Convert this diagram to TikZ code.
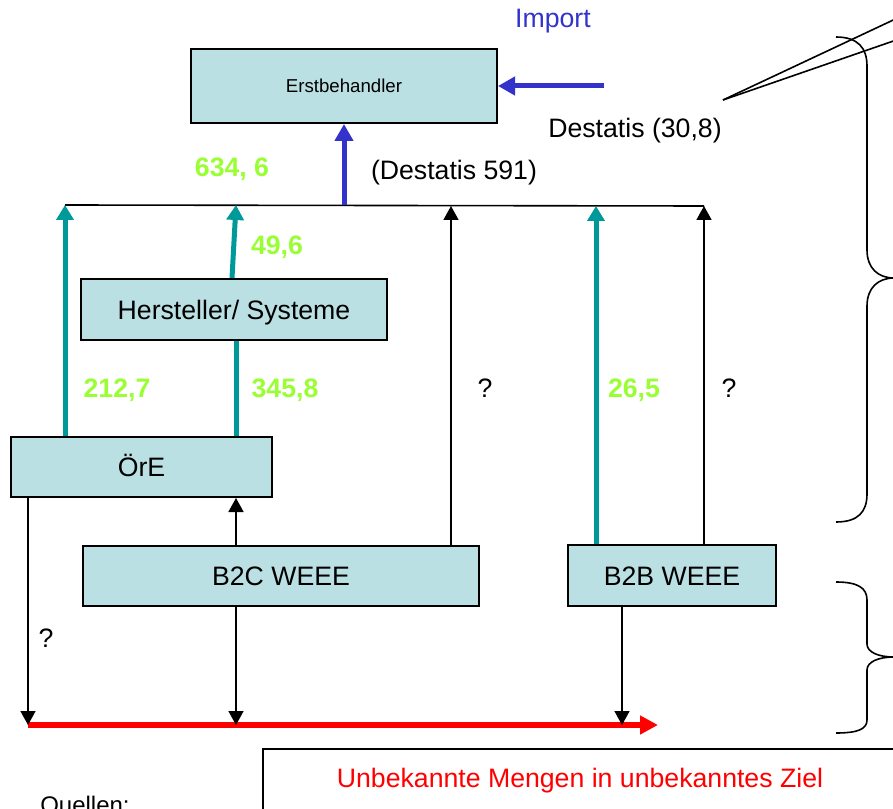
\documentclass[tikz,border=0pt]{standalone}
\usepackage{fontspec}
\setmainfont{Liberation Sans}
\usetikzlibrary{arrows.meta}
\definecolor{boxfill}{HTML}{BBE0E3}
\definecolor{tealc}{HTML}{009999}
\definecolor{limec}{HTML}{99FF33}
\definecolor{bluec}{HTML}{3333CC}
\begin{document}
\begin{tikzpicture}[x=0.75pt,y=-0.75pt,
  box/.style={draw=black, line width=1.5pt, fill=boxfill, inner sep=0pt, text height=14.3pt, text depth=0pt, font=\fontsize{20}{24}\selectfont},
  lbl/.style={inner sep=0pt, text height=14.3pt, text depth=0pt, font=\fontsize{20}{24}\selectfont},
  num/.style={inner sep=0pt, text height=14.3pt, text depth=0pt, text=limec, font=\fontsize{20}{24}\selectfont\bfseries},
  tealarrow/.style={draw=tealc, line width=3.75pt, -{Triangle[width=12.75pt,length=11.25pt]}},
  tealline/.style={draw=tealc, line width=3.75pt},
  blackarrow/.style={draw=black, line width=1.2pt, -{Triangle[width=11.25pt,length=10.5pt]}},
  bluearrow/.style={draw=bluec, line width=3.75pt, -{Triangle[width=13.5pt,length=12.75pt]}},
  redarrow/.style={draw=red, line width=4.5pt, -{Triangle[width=13.5pt,length=13.5pt]}},
  thinline/.style={draw=black, line width=1.2pt}
]
\useasboundingbox (0,0) rectangle (893,809);
\clip (0,0) rectangle (893,809);

% boxes
\node[box, minimum width=229.5pt, minimum height=55.5pt, text height=10pt, font=\fontsize{14}{16}\selectfont] (erst) at (344,86) {Erstbehandler};
\node[box, minimum width=229.5pt, minimum height=45.75pt] (herst) at (234,309.5) {Hersteller/ Systeme};
\node[box, minimum width=195.75pt, minimum height=45pt] (ore) at (141.5,467) {ÖrE};
\node[box, minimum width=297pt, minimum height=45pt] (b2c) at (281,576) {B2C WEEE};
\node[box, minimum width=156pt, minimum height=45.75pt] (b2b) at (672,575.5) {B2B WEEE};
\node[draw=black, line width=1.2pt, anchor=north west, minimum width=480pt, minimum height=50pt, inner sep=0pt] (unk) at (262,748) {};

% labels
\node[lbl, text=bluec] (import) at (553,18) {Import};
\node[lbl] (dest) at (635,128) {Destatis (30,8)};
\node[num] (n634) at (232,167) {634, 6};
\node[lbl] (d591) at (454,170) {(Destatis 591)};
\node[num] (n49) at (277,245) {49,6};
\node[num] (n212) at (117,388) {212,7};
\node[num] (n345) at (285,388) {345,8};
\node[lbl] (q1) at (485,388) {?};
\node[num] (n265) at (634,388) {26,5};
\node[lbl] (q2) at (729,388) {?};
\node[lbl] (q3) at (46,638) {?};
\node[lbl, text=red] (unktext) at (580,778) {Unbekannte Mengen in unbekanntes Ziel};
\node[inner sep=0pt, anchor=base west, font=\fontsize{18}{20}\selectfont] (quellen) at (40,813) {Quellen:};

% bus line
\coordinate (busL) at (65,205);
\coordinate (busR) at (704,206);
\draw[thinline] (busL) -- (busR);
\coordinate (hA) at (65,205);
\coordinate (hB) at (236,205);
\coordinate (hC) at (344,205);
\coordinate (hD) at (451,206);
\coordinate (hE) at (596,206);
\coordinate (hF) at (704,206);

% import arrows
\coordinate (impStart) at (604,86);
\draw[bluearrow] (impStart) -- (erst.east |- impStart);
\draw[bluearrow] (hC) -- (erst.south);

% teal flows
\draw[tealarrow] (ore.north -| hA) -- (hA);
\draw[tealarrow] (herst.north -| 232,0) -- (hB);
\draw[tealline] (ore.north -| hB) -- (herst.south -| hB);
\draw[tealarrow] (b2b.north -| hE) -- (hE);

% black flows up
\draw[blackarrow] (b2c.north -| hD) -- (hD);
\draw[blackarrow] (b2b.north -| hF) -- (hF);
\draw[blackarrow] (b2c.north -| hB) -- (ore.south -| hB);

% unknown destination
\coordinate (rL) at (28,725);
\coordinate (rR) at (658,725);
\coordinate (r2) at (236,725);
\coordinate (r3) at (622,725);
\draw[redarrow] (rL) -- (rR);
\draw[blackarrow] (ore.south -| rL) -- (rL);
\draw[blackarrow] (b2c.south -| r2) -- (r2);
\draw[blackarrow] (b2b.south -| r3) -- (r3);

% callout lines
\coordinate (cp) at (723,100);
\coordinate (c1) at (905,14.5);
\coordinate (c2) at (905,37);
\draw[thinline] (cp) -- (c1);
\draw[thinline] (cp) -- (c2);

% braces
\draw[thinline] (836,37) .. controls (858,37) and (867,48) .. (867,66)
  -- (867,250) .. controls (867,268) and (878,278) .. (894,278)
  .. controls (878,278) and (867,288) .. (867,306)
  -- (867,494) .. controls (867,512) and (858,522) .. (836,522);
\draw[thinline] (836,582) .. controls (858,582) and (867,588) .. (867,600)
  -- (867,644) .. controls (867,652) and (878,657) .. (894,657)
  .. controls (878,657) and (867,662) .. (867,670)
  -- (867,720) .. controls (867,729) and (858,733) .. (836,733);
\end{tikzpicture}
\end{document}
